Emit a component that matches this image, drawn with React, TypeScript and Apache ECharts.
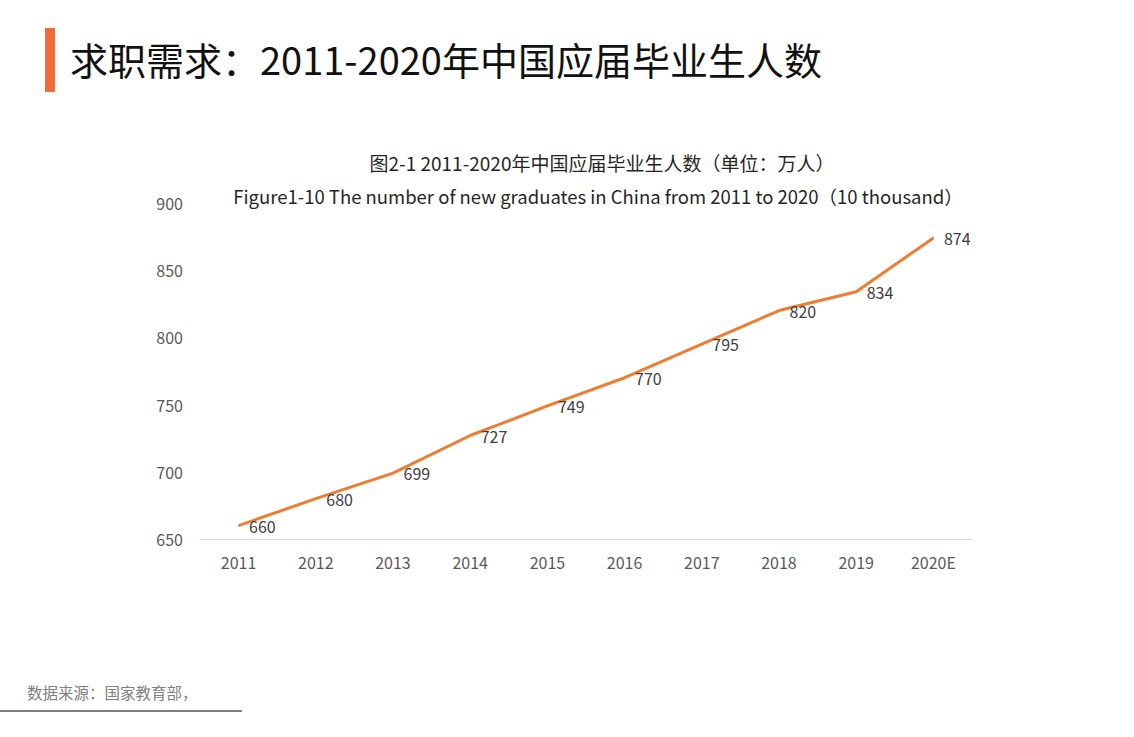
import React, { useEffect, useRef } from "react";
import * as echarts from "echarts";

const years = ["2011", "2012", "2013", "2014", "2015", "2016", "2017", "2018", "2019", "2020E"];
const graduates = [660, 680, 699, 727, 749, 770, 795, 820, 834, 874];
const yTicks = { min: 650, max: 900, step: 50 };

const FONT = '"Noto Sans CJK SC", "Noto Sans", sans-serif';

const App: React.FC = () => {
  const chartRef = useRef<HTMLDivElement>(null);

  useEffect(() => {
    if (!chartRef.current) return;
    const chart = echarts.init(chartRef.current, undefined, { renderer: "svg" });
    const option = {
      animation: false,
      textStyle: { fontFamily: FONT },
      title: [
        {
          text: "图2-1 2011-2020年中国应届毕业生人数（单位：万人）",
          left: 597,
          top: 148,
          textAlign: "center",
          textStyle: { fontSize: 19, fontWeight: "normal", color: "#262626", fontFamily: FONT },
        },
        {
          text: "Figure1-10 The number of new graduates in China from 2011 to 2020（10 thousand）",
          left: 593,
          top: 182,
          textAlign: "center",
          textStyle: { fontSize: 18.5, fontWeight: "normal", color: "#262626", fontFamily: FONT },
        },
      ],
      grid: { left: 200, right: 162, top: 203, bottom: 198, containLabel: false },
      xAxis: {
        type: "category",
        data: years,
        boundaryGap: true,
        axisLine: { lineStyle: { color: "#d9d9d9", width: 1 } },
        axisTick: { show: false },
        axisLabel: { color: "#595959", fontSize: 16, margin: 15, fontFamily: FONT },
      },
      yAxis: {
        type: "value",
        min: yTicks.min,
        max: yTicks.max,
        interval: yTicks.step,
        splitLine: { show: false },
        axisLine: { show: false },
        axisTick: { show: false },
        axisLabel: { color: "#595959", fontSize: 16, margin: 17, fontFamily: FONT },
      },
      series: [
        {
          type: "line",
          data: graduates,
          symbol: "circle",
          symbolSize: 1,
          itemStyle: { color: "#ED7D31" },
          lineStyle: { color: "#ED7D31", width: 3 },
          label: {
            show: true,
            position: "right",
            distance: 10,
            color: "#404040",
            fontSize: 16,
            fontFamily: FONT,
          },
        },
      ],
      graphic: [
        { type: "rect", shape: { x: 45, y: 28, width: 10, height: 64 }, style: { fill: "#F26B3A" } },
        {
          type: "text",
          x: 70,
          y: 58,
          style: {
            text: "求职需求：2011-2020年中国应届毕业生人数",
            font: `38px ${FONT}`,
            fill: "#111111",
            textVerticalAlign: "middle",
          },
        },
        {
          type: "text",
          x: 27,
          y: 692,
          style: {
            text: "数据来源：国家教育部，",
            font: `15.5px ${FONT}`,
            fill: "#808080",
            textVerticalAlign: "middle",
          },
        },
        {
          type: "line",
          shape: { x1: 0, y1: 711, x2: 242, y2: 711 },
          style: { stroke: "#7f7f7f", lineWidth: 2 },
        },
      ],
    };
    chart.setOption(option);
    return () => chart.dispose();
  }, []);

  return (
    <div
      ref={chartRef}
      style={{ position: "fixed", left: 0, top: 0, width: 1134, height: 737, background: "#ffffff" }}
    ></div>
  );
};

export default App;
